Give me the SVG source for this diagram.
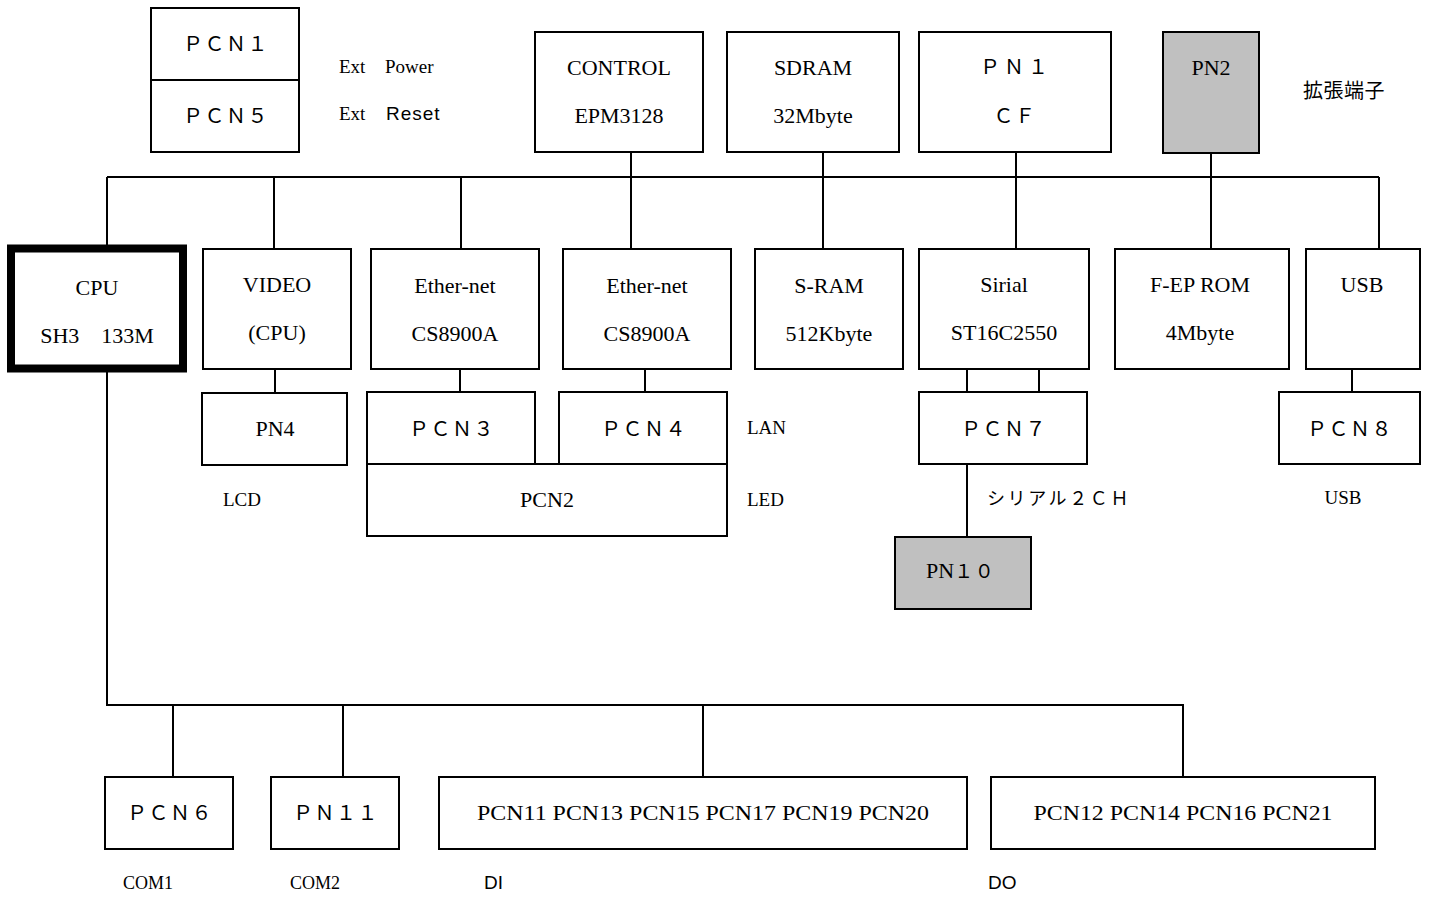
<svg xmlns="http://www.w3.org/2000/svg" width="1436" height="897" viewBox="0 0 1436 897">
<style>
.box{fill:#fff;stroke:#000;stroke-width:2}
.gray{fill:#c0c0c0}
.cpu{stroke-width:8}
.t{font-family:"Liberation Serif",serif;font-size:22px;text-anchor:middle;fill:#000}
.fw{font-family:"Noto Sans CJK JP",sans-serif;font-size:20px;letter-spacing:1.5px;text-anchor:middle;fill:#000}
.lbl{font-family:"Liberation Serif",serif;font-size:19px;fill:#000}
.sm{font-size:18px}
.sans{font-family:"Liberation Sans",sans-serif}
.cjk{font-family:"Noto Sans CJK JP",sans-serif}
.conn{fill:none;stroke:#000;stroke-width:2}
</style>
<rect width="1436" height="897" fill="#fff"/>
<g id="connectors" class="conn">
<path d="M107 177H1379"/>
<path d="M107 177V249M274 177V249M461 177V249M631 152V249M823 152V249M1016 152V249M1211 153V249M1379 177V249"/>
<path d="M275 369V393M460 369V392M645 369V392M967 369V392M1039 369V392M967 464V537M1352 369V392"/>
<path d="M107 372V705H1183V777M173 705V777M343 705V777M703 705V777"/>
</g>
<g id="pcn1">
<rect class="box" x="151" y="8" width="148" height="72"/>
<text class="fw" x="226" y="51">ＰＣＮ１</text>
</g>
<g id="pcn5">
<rect class="box" x="151" y="80" width="148" height="72"/>
<text class="fw" x="226" y="123">ＰＣＮ５</text>
</g>
<g id="control">
<rect class="box" x="535" y="32" width="168" height="120"/>
<text class="t" x="619" y="75">CONTROL</text>
<text class="t" x="619" y="123">EPM3128</text>
</g>
<g id="sdram">
<rect class="box" x="727" y="32" width="172" height="120"/>
<text class="t" x="813" y="75">SDRAM</text>
<text class="t" x="813" y="123">32Mbyte</text>
</g>
<g id="pn1">
<rect class="box" x="919" y="32" width="192" height="120"/>
<text class="fw" x="1016" y="74" style="letter-spacing:4px">ＰＮ１</text>
<text class="fw" x="1015" y="123">ＣＦ</text>
</g>
<g id="pn2">
<rect class="box gray" x="1163" y="32" width="96" height="121"/>
<text class="t" x="1211" y="75">PN2</text>
</g>
<g id="cpu">
<rect class="box cpu" x="11" y="248.5" width="172" height="120"/>
<text class="t" x="97" y="295">CPU</text>
<text class="t" x="97" y="343">SH3　133M</text>
</g>
<g id="video">
<rect class="box" x="203" y="249" width="148" height="120"/>
<text class="t" x="277" y="292">VIDEO</text>
<text class="t" x="277" y="340">(CPU)</text>
</g>
<g id="ether1">
<rect class="box" x="371" y="249" width="168" height="120"/>
<text class="t" x="455" y="293">Ether-net</text>
<text class="t" x="455" y="341">CS8900A</text>
</g>
<g id="ether2">
<rect class="box" x="563" y="249" width="168" height="120"/>
<text class="t" x="647" y="293">Ether-net</text>
<text class="t" x="647" y="341">CS8900A</text>
</g>
<g id="sram">
<rect class="box" x="755" y="249" width="148" height="120"/>
<text class="t" x="829" y="293">S-RAM</text>
<text class="t" x="829" y="341">512Kbyte</text>
</g>
<g id="sirial">
<rect class="box" x="919" y="249" width="170" height="120"/>
<text class="t" x="1004" y="292">Sirial</text>
<text class="t" x="1004" y="340">ST16C2550</text>
</g>
<g id="feprom">
<rect class="box" x="1115" y="249" width="174" height="120"/>
<text class="t" x="1200" y="292">F-EP ROM</text>
<text class="t" x="1200" y="340">4Mbyte</text>
</g>
<g id="usb">
<rect class="box" x="1306" y="249" width="114" height="120"/>
<text class="t" x="1362" y="292">USB</text>
</g>
<g id="pn4">
<rect class="box" x="202" y="393" width="145" height="72"/>
<text class="t" x="275" y="436">PN4</text>
</g>
<g id="pcn3">
<rect class="box" x="367" y="392" width="168" height="72"/>
<text class="fw" x="452" y="436">ＰＣＮ３</text>
</g>
<g id="pcn4">
<rect class="box" x="559" y="392" width="168" height="72"/>
<text class="fw" x="644" y="436">ＰＣＮ４</text>
</g>
<g id="pcn2">
<rect class="box" x="367" y="464" width="360" height="72"/>
<text class="t" x="547" y="507">PCN2</text>
</g>
<g id="pcn7">
<rect class="box" x="919" y="392" width="168" height="72"/>
<text class="fw" x="1004" y="436">ＰＣＮ７</text>
</g>
<g id="pn10">
<rect class="box gray" x="895" y="537" width="136" height="72"/>
<text class="t" x="926" y="578" style="text-anchor:start">PN<tspan class="cjk" style="font-size:19px;letter-spacing:1.5px">１０</tspan></text>
</g>
<g id="pcn8">
<rect class="box" x="1279" y="392" width="141" height="72"/>
<text class="fw" x="1350" y="436">ＰＣＮ８</text>
</g>
<g id="pcn6">
<rect class="box" x="105" y="777" width="128" height="72"/>
<text class="fw" x="170" y="820">ＰＣＮ６</text>
</g>
<g id="pn11">
<rect class="box" x="271" y="777" width="128" height="72"/>
<text class="fw" x="336" y="820">ＰＮ１１</text>
</g>
<g id="di">
<rect class="box" x="439" y="777" width="528" height="72"/>
<text class="t" x="703" y="820" textLength="452" lengthAdjust="spacingAndGlyphs">PCN11 PCN13 PCN15 PCN17 PCN19 PCN20</text>
</g>
<g id="do">
<rect class="box" x="991" y="777" width="384" height="72"/>
<text class="t" x="1183" y="820" textLength="299" lengthAdjust="spacingAndGlyphs">PCN12 PCN14 PCN16 PCN21</text>
</g>
<g id="labels">
<text class="lbl" x="339" y="73">Ext <tspan x="385">Power</tspan></text>
<text class="lbl" x="339" y="120">Ext <tspan x="386" class="sans" style="letter-spacing:1px">Reset</tspan></text>
<text class="cjk" x="1303" y="98" style="font-size:20px;letter-spacing:0.5px">拡張端子</text>
<text class="lbl" x="747" y="434">LAN</text>
<text class="lbl" x="747" y="506">LED</text>
<text class="lbl" x="223" y="506">LCD</text>
<text class="cjk" x="987" y="505" style="font-size:18px;letter-spacing:2.6px">シリアル２ＣＨ</text>
<text class="lbl" x="1343" y="504" style="text-anchor:middle">USB</text>
<text class="lbl sm" x="123" y="889">COM1</text>
<text class="lbl sm" x="290" y="889">COM2</text>
<text class="lbl sans" x="484" y="889">DI</text>
<text class="lbl sans" x="988" y="889">DO</text>
</g>
</svg>
